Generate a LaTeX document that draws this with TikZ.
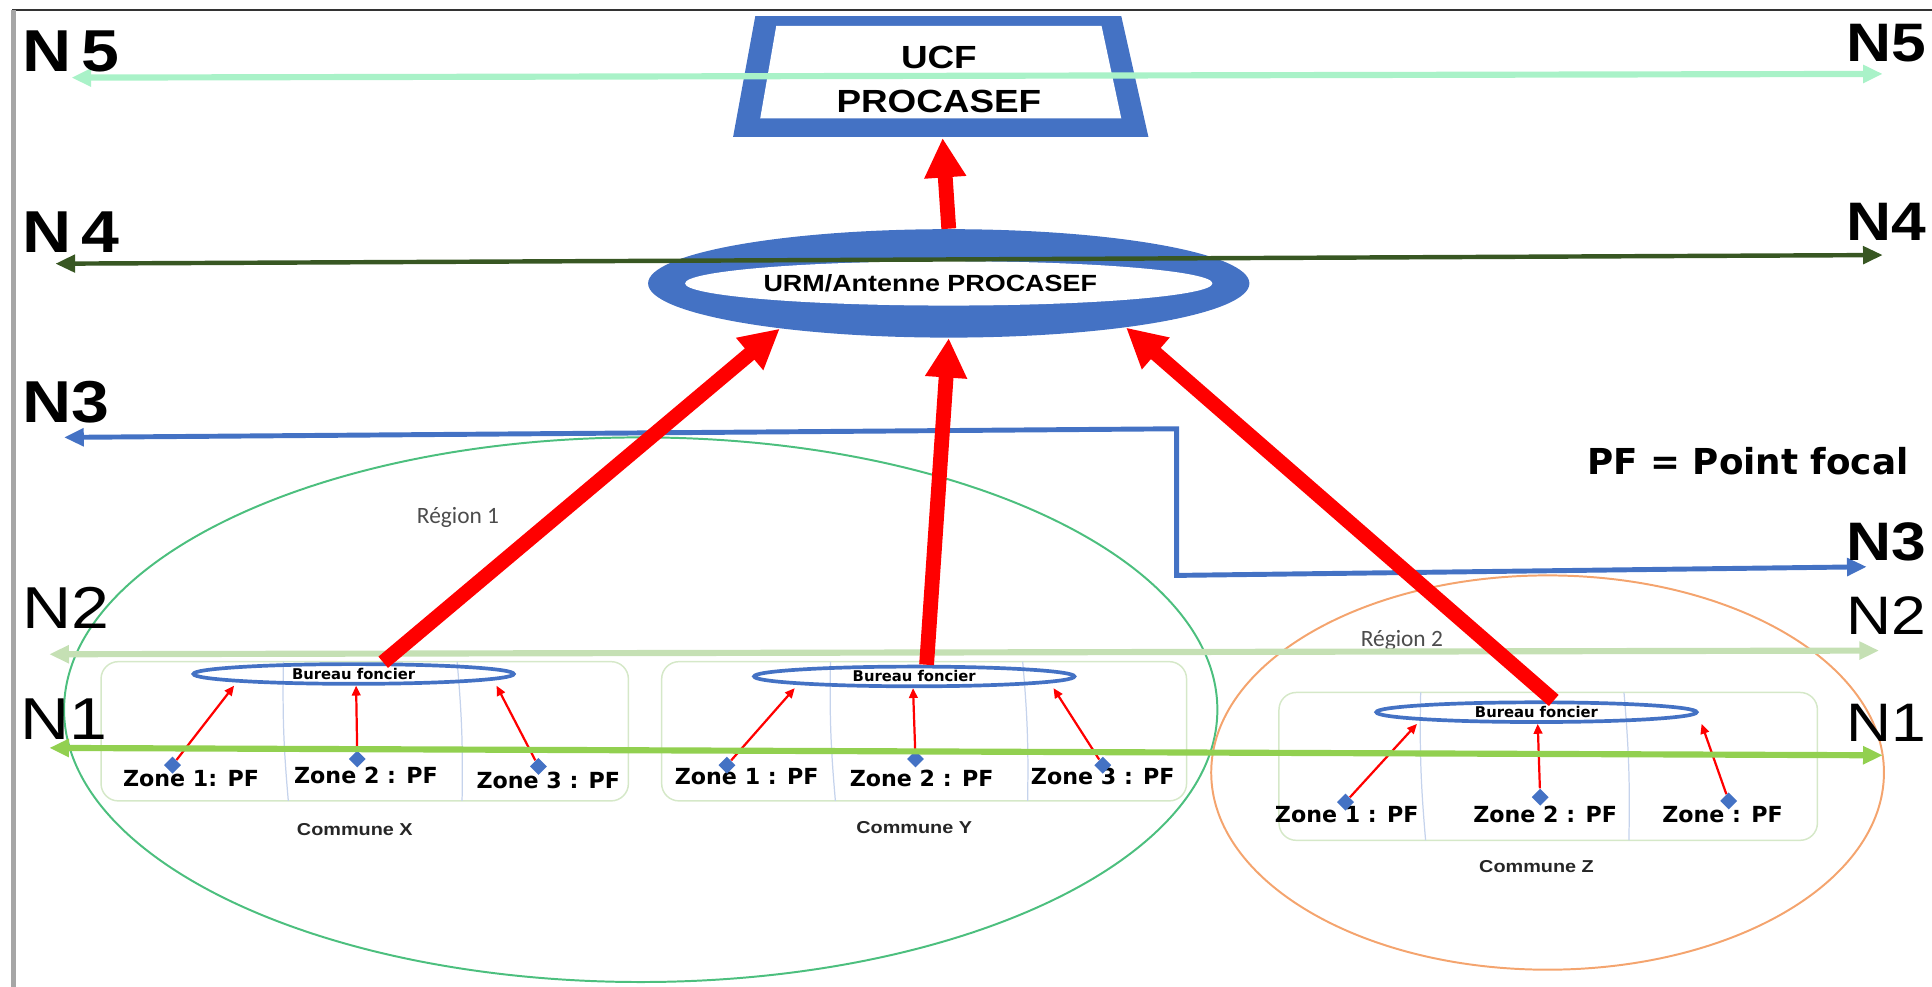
\documentclass[tikz,border=0pt]{standalone}
\usepackage{fontspec}
\setmainfont{Liberation Sans}
\newfontfamily\heavyfont[FakeStretch=1.15]{Liberation Sans}
\newfontfamily\comicfont{DejaVu Sans}
\newfontfamily\calfont{Carlito}
\usetikzlibrary{arrows.meta,shapes.geometric}

\definecolor{procblue}{HTML}{4472C4}
\definecolor{mint}{HTML}{A9F2C8}
\definecolor{darkgreen}{HTML}{385723}
\definecolor{palegreen}{HTML}{C5E0B4}
\definecolor{limegreen}{HTML}{92D050}
\definecolor{regiongreen}{HTML}{4CBF7E}
\definecolor{regionorange}{HTML}{F4A46E}
\definecolor{boxgreen}{HTML}{D5E8C8}
\definecolor{divblue}{HTML}{C5D3EC}

\begin{document}
\begin{tikzpicture}[x=0.5pt, y=-0.5pt,
    level/.style={font=\heavyfont\fontsize{24}{24}\selectfont, inner sep=0pt, anchor=base west},
    levelright/.style={font=\heavyfont\fontsize{22}{22}\selectfont, inner sep=0pt, anchor=base west},
    levelarrow/.style={line width=2.2pt, {Triangle[width=7pt,length=8pt]}-{Triangle[width=7pt,length=8pt]}},
    bigarrow/.style={red, line width=6pt, -{Triangle[width=16pt,length=16pt]}},
    smallarrow/.style={red, line width=0.9pt, -{Triangle[width=3.5pt,length=4pt]}},
    communebox/.style={draw=boxgreen, line width=0.6pt, rounded corners=7pt},
    divider/.style={divblue, line width=0.5pt},
    bureau/.style={ellipse, draw=procblue, line width=1.5pt, minimum width=130pt, minimum height=8pt, inner sep=0pt, font=\comicfont\bfseries\fontsize{6}{6}\selectfont},
    pf/.style={diamond, fill=procblue, inner sep=0pt, minimum size=7pt},
    zone/.style={font=\comicfont\bfseries\fontsize{9}{9}\selectfont, inner sep=0pt},
    cname/.style={font=\heavyfont\bfseries\fontsize{7}{7}\selectfont, text=black!85},
    regionlabel/.style={font=\calfont\fontsize{9.5}{9.5}\selectfont, text=black!70, anchor=base west, inner sep=0pt}
  ]

  \clip (0,0) rectangle (1568,801);

  % frame of the scanned page
  \draw[black!80, line width=1pt] (10,8) -- (1568,8);
  \draw[black!35, line width=2pt] (11,8) -- (11,801);

  % the two regions
  \node[ellipse, draw=regiongreen, line width=0.8pt, minimum width=468pt, minimum height=221pt] (region1) at (520,576) {};
  \node[ellipse, draw=regionorange, line width=0.8pt, minimum width=273pt, minimum height=160pt] (region2) at (1256,627) {};
  \node[regionlabel] (reg1) at (338,425) {Région 1};
  \node[regionlabel] (reg2) at (1104,525) {Région 2};

  % Commune X
  \draw[communebox] (82,537) rectangle (510,650);
  \draw[divider] (230,537) to[bend right=3] (234,650);
  \draw[divider] (371,537) to[bend left=3] (375,650);
  \node[bureau] (bfX) at (287,547) {Bureau foncier};
  \node[zone] (zX1) at (155,632) {Zone 1: PF};
  \node[zone] (zX2) at (297,629) {Zone 2 : PF};
  \node[zone] (zX3) at (445,633) {Zone 3 : PF};
  \node[pf] (pfX1) at (140,621) {};
  \node[pf] (pfX2) at (290,616) {};
  \node[pf] (pfX3) at (437,622) {};
  \draw[smallarrow] (pfX1) -- ([xshift=-48.5pt]bfX.south);
  \draw[smallarrow] (pfX2) -- ([xshift=1pt]bfX.south);
  \draw[smallarrow] (pfX3) -- ([xshift=58pt]bfX.south);
  \node[cname] (cnX) at (288,673) {Commune X};

  % Commune Y
  \draw[communebox] (537,537) rectangle (963,650);
  \draw[divider] (674,537) to[bend right=3] (678,650);
  \draw[divider] (830,537) to[bend left=3] (834,650);
  \node[bureau] (bfY) at (742,549) {Bureau foncier};
  \node[zone] (zY1) at (606,630) {Zone 1 : PF};
  \node[zone] (zY2) at (748,632) {Zone 2 : PF};
  \node[zone] (zY3) at (895,630) {Zone 3 : PF};
  \node[pf] (pfY1) at (590,621) {};
  \node[pf] (pfY2) at (743,616) {};
  \node[pf] (pfY3) at (895,621) {};
  \draw[smallarrow] (pfY1) -- ([xshift=-48.5pt]bfY.south);
  \draw[smallarrow] (pfY2) -- ([xshift=-0.5pt]bfY.south);
  \draw[smallarrow] (pfY3) -- ([xshift=56.5pt]bfY.south);
  \node[cname] (cnY) at (742,672) {Commune Y};

  % Commune Z
  \draw[communebox] (1038,562) rectangle (1475,682);
  \draw[divider] (1153,562) to[bend right=3] (1157,682);
  \draw[divider] (1318,562) to[bend left=3] (1322,682);
  \node[bureau] (bfZ) at (1247,578) {Bureau foncier};
  \node[zone] (zZ1) at (1093,661) {Zone 1 : PF};
  \node[zone] (zZ2) at (1254,661) {Zone 2 : PF};
  \node[zone] (zZ3) at (1398,661) {Zone : PF};
  \node[pf] (pfZ1) at (1092,651) {};
  \node[pf] (pfZ2) at (1250,647) {};
  \node[pf] (pfZ3) at (1403,650) {};
  \draw[smallarrow] (pfZ1) -- ([xshift=-48.5pt]bfZ.south);
  \draw[smallarrow] (pfZ2) -- ([xshift=0.5pt]bfZ.south);
  \draw[smallarrow] (pfZ3) -- ([xshift=67pt]bfZ.south);
  \node[cname] (cnZ) at (1247,703) {Commune Z};

  % level lines N1 to N3
  \coordinate (n1a) at (40,607);   \coordinate (n1b) at (1528,613);
  \coordinate (n2a) at (40,531);   \coordinate (n2b) at (1525,528);
  \coordinate (n3a) at (52,355);   \coordinate (n3c) at (955,348);
  \coordinate (n3d) at (955,467);  \coordinate (n3b) at (1515,460);
  \draw[levelarrow, limegreen, line width=2.5pt] (n1a) -- (n1b);
  \draw[levelarrow, palegreen, line width=2.5pt] (n2a) -- (n2b);
  \draw[levelarrow, procblue, line width=2pt] (n3a) -- (n3c) -- (n3d) -- (n3b);

  % UCF trapezium
  \fill[procblue] (613,13) -- (910,13) -- (932,111) -- (595,111) -- cycle;
  \fill[white] (630,21) -- (894,21) -- (910,96) -- (617,96) -- cycle;
  \node[font=\heavyfont\bfseries\fontsize{13}{13}\selectfont] (ucf) at (762,47) {UCF};
  \node[font=\heavyfont\bfseries\fontsize{13}{13}\selectfont] (procasef) at (762,82) {PROCASEF};
  \coordinate (ucfbase) at (765,112);

  % URM ring
  \node[ellipse, fill=procblue, minimum width=244pt, minimum height=44pt, inner sep=0pt] (urm) at (770,230) {};
  \node[ellipse, fill=white, minimum width=214pt, minimum height=18pt, inner sep=0pt] (urmin) at (770,230) {};
  \node[font=\heavyfont\bfseries\fontsize{9.5}{9.5}\selectfont] (urmtext) at (755,230) {URM/Antenne PROCASEF};

  % level lines N4 and N5
  \coordinate (n4a) at (45,214);  \coordinate (n4b) at (1528,207);
  \coordinate (n5a) at (58,63);   \coordinate (n5b) at (1528,60);
  \draw[levelarrow, darkgreen, line width=1.8pt] (n4a) -- (n4b);
  \draw[levelarrow, mint, line width=2.5pt] (n5a) -- (n5b);

  % upward flow
  \draw[bigarrow] (urm.north) -- (ucfbase);
  \draw[bigarrow] ([xshift=12pt]bfX.north) -- (urm.195);
  \draw[bigarrow] ([xshift=5pt]bfY.north) -- (urm.south);
  \draw[bigarrow] ([xshift=7pt]bfZ.north) -- (urm.-14);

  % level labels
  \node[level, font=\heavyfont\bfseries\fontsize{24}{24}\selectfont] (n5l) at (18,58) {N\,5};
  \node[level, font=\heavyfont\bfseries\fontsize{24}{24}\selectfont] (n4l) at (18,205) {N\,4};
  \node[level, font=\heavyfont\bfseries\fontsize{24}{24}\selectfont] (n3l) at (18,343) {N3};
  \node[level] (n2l) at (18,510) {N2};
  \node[level] (n1l) at (16,600) {N1};
  \node[levelright, font=\heavyfont\bfseries\fontsize{22}{22}\selectfont] (n5r) at (1498,50) {N5};
  \node[levelright, font=\heavyfont\bfseries\fontsize{22}{22}\selectfont] (n4r) at (1498,195) {N4};
  \node[levelright, font=\heavyfont\bfseries\fontsize{22}{22}\selectfont] (n3r) at (1498,455) {N3};
  \node[levelright] (n2r) at (1498,515) {N2};
  \node[levelright] (n1r) at (1498,602) {N1};

  % legend
  \node[font=\comicfont\bfseries\fontsize{14.5}{14.5}\selectfont, anchor=base west, inner sep=0pt] (legend) at (1288,385) {PF = Point focal};

\end{tikzpicture}
\end{document}
